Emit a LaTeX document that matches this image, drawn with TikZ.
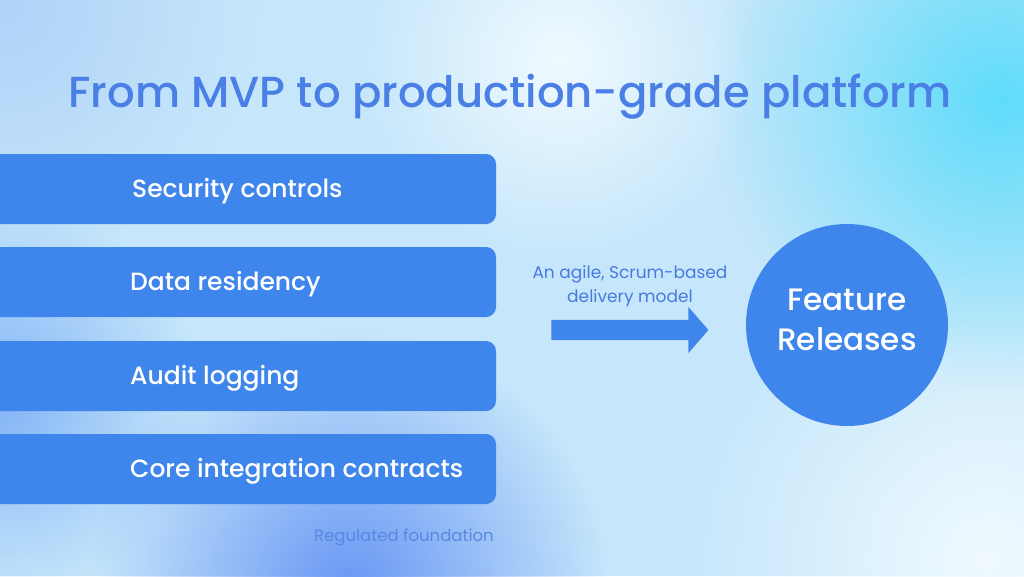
\documentclass[tikz,border=0pt]{standalone}
\usepackage{fontspec}
\setmainfont{Poppins}
\newfontfamily\mediumfont{Poppins Medium}
\usetikzlibrary{positioning,shapes.arrows,fadings,shadings}
\definecolor{bgbase}{RGB}{198,231,251}
\definecolor{glowcyan}{RGB}{95,220,250}
\definecolor{glowblue}{RGB}{105,150,244}
\definecolor{glowside}{RGB}{132,180,246}
\definecolor{glowcorner}{RGB}{175,210,248}
\definecolor{glowpale}{RGB}{240,250,255}
\definecolor{boxblue}{RGB}{63,134,236}
\definecolor{titleblue}{RGB}{74,127,230}
\definecolor{notetext}{RGB}{72,122,222}
\definecolor{footblue}{RGB}{88,136,226}
\tikzfading[name=softglow, inner color=transparent!0, outer color=transparent!100]
\tikzstyle{layer} = [rectangle, fill=boxblue, rounded corners=10pt, minimum width=540pt, minimum height=70pt, inner sep=0pt]
\tikzstyle{layertext} = [anchor=base west, inner sep=0pt, text=white, font=\mediumfont\fontsize{25}{28}\selectfont]

\begin{document}
\begin{tikzpicture}[x=1pt, y=-1pt]
    % Background
    \useasboundingbox (0,0) rectangle (1024,576);
    \fill[bgbase] (0,0) rectangle (1024,576);
    \fill[glowpale, path fading=softglow] (990,560) circle (300);
    \fill[glowpale, path fading=softglow] (560,60) circle (200);
    \fill[glowcorner, path fading=softglow] (0,0) circle (260);
    \fill[glowcyan, path fading=softglow] (1000,100) circle (290);
    \fill[glowside, path fading=softglow] (0,400) circle (200);
    \fill[glowblue, path fading=softglow] (350,590) circle (260);

    % Title
    \node[anchor=base, inner sep=0pt, text=titleblue, font=\mediumfont\fontsize{43.4}{48}\selectfont] (title) at (510,107) {From MVP to production-grade platform};

    % Layers
    \node[layer] (security) at (226,189) {};
    \node[layertext] (securitytxt) at (132,197) {Security controls};
    \node[layer] (residency) at (226,282) {};
    \node[layertext] (residencytxt) at (130,290) {Data residency};
    \node[layer] (audit) at (226,376) {};
    \node[layertext] (audittxt) at (130,384) {Audit logging};
    \node[layer] (contracts) at (226,469) {};
    \node[layertext] (contractstxt) at (130,477) {Core integration contracts};
    \node[anchor=base, inner sep=0pt, text=footblue, font=\fontsize{16.5}{18}\selectfont] (foundation) at (404,541) {Regulated foundation};

    % Delivery arrow
    \node[single arrow, fill=boxblue, draw=none, minimum height=157pt, minimum width=46pt, single arrow head extend=13pt, single arrow tip angle=98, inner sep=0pt] (delivery) at (625.5,330) {\rule{0pt}{20pt}};
    \node[align=center, inner sep=0pt, text=notetext, font=\fontsize{17}{24}\selectfont] (deliverytxt) at (630,286) {An agile, Scrum-based\\delivery model};

    % Releases
    \node[circle, fill=boxblue, minimum size=202pt, inner sep=0pt] (releases) at (847,325) {};
    \node[align=center, inner sep=0pt, text=white, font=\mediumfont\fontsize{31}{40}\selectfont] (releasestxt) at (847,320) {Feature\\Releases};
\end{tikzpicture}
\end{document}
